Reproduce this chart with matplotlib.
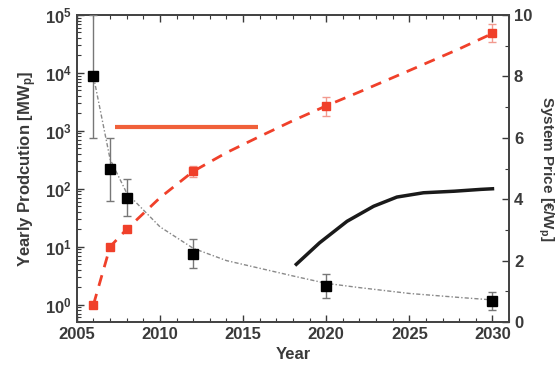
from matplotlib import pyplot as plt
from matplotlib.ticker import MultipleLocator, LogLocator, NullFormatter
import numpy as np

plt.rcParams['font.family'] = ['Liberation Sans', 'DejaVu Sans']
plt.rcParams['font.weight'] = 'bold'
plt.rcParams['mathtext.default'] = 'regular'

text_color = '#3a3a3a'

# production (left, log axis) - red squares
prod_years = [2006, 2007, 2008, 2012, 2020, 2030]
prod_values = [1, 10, 20, 200, 2700, 48000]
prod_err_lo = [0.0, 0.0, 0.0, 40, 900, 14000]
prod_err_hi = [0.0, 0.0, 0.0, 50, 1100, 22000]

# smooth dashed trend for production
prod_fit_years = [2006, 2007, 2008, 2010, 2012, 2014, 2016, 2018, 2020, 2022, 2025, 2028, 2030]
prod_fit_values = [1, 10, 20, 70, 200, 420, 800, 1500, 2700, 4700, 11000, 26000, 48000]

# horizontal orange reference line (left axis)
ref_years = [2007.3, 2015.9]
ref_values = [1150, 1150]

# system price (right axis) - black squares
price_years = [2006, 2007, 2008, 2012, 2020, 2030]
price_values = [8.0, 5.0, 4.05, 2.2, 1.17, 0.69]
price_err_lo = [2.0, 1.05, 0.6, 0.45, 0.4, 0.3]
price_err_hi = [2.0, 1.0, 0.6, 0.5, 0.4, 0.3]

# dotted fit through system price
price_fit_years = [2006, 2007, 2008, 2010, 2012, 2014, 2016, 2018, 2020, 2022, 2025, 2028, 2030]
price_fit_values = [8.0, 5.3, 4.2, 3.1, 2.4, 2.0, 1.75, 1.5, 1.26, 1.12, 0.93, 0.8, 0.72]

# solid black curve (right axis)
curve_years = [2018.2, 2019.6, 2021.25, 2022.85, 2024.25, 2025.85, 2027.7, 2029.3, 2030.0]
curve_values = [1.88, 2.58, 3.28, 3.77, 4.07, 4.21, 4.26, 4.32, 4.34]

fig = plt.figure(figsize=(5.57, 3.76), dpi=100)
ax = fig.add_axes([0.138, 0.1436, 0.776, 0.8165])
ax2 = ax.twinx()

red = '#f0402a'
ax.plot(prod_fit_years, prod_fit_values, color=red, linestyle=(0, (4, 3)), lw=2, zorder=2)
ax.errorbar(prod_years, prod_values, yerr=[prod_err_lo, prod_err_hi], fmt='s', color=red,
            ecolor='#f29a8f', elinewidth=1, capsize=3, markersize=6, zorder=3)
ax.plot(ref_years, ref_values, color='#f0603a', lw=3, solid_capstyle='butt', zorder=2)

ax2.plot(price_fit_years, price_fit_values, color='#8a8a8a', linestyle=(0, (3, 1.5, 1, 1.5)), lw=1, zorder=2)
ax2.errorbar(price_years, price_values, yerr=[price_err_lo, price_err_hi], fmt='s', color='black',
             ecolor='#777777', elinewidth=1, capsize=3, markersize=7, zorder=3)
ax2.plot(curve_years, curve_values, color='#1a1a1a', lw=2.5, zorder=2)

ax.set_yscale('log')
ax.set_ylim(0.5, 1e5)
ax.set_xlim(2005, 2031)
ax2.set_ylim(0, 10)

ax.xaxis.set_major_locator(MultipleLocator(5))
ax.xaxis.set_minor_locator(MultipleLocator(1))
ax.yaxis.set_major_locator(LogLocator(base=10, numticks=10))
ax.yaxis.set_minor_locator(LogLocator(base=10, subs=np.arange(2, 10), numticks=10))
ax.yaxis.set_minor_formatter(NullFormatter())
ax2.yaxis.set_major_locator(MultipleLocator(2))
ax2.yaxis.set_minor_locator(MultipleLocator(1))

for a in (ax, ax2):
    a.tick_params(which='both', direction='in', colors=text_color, labelsize=12, top=True)
    a.tick_params(which='major', length=5, width=1)
    a.tick_params(which='minor', length=3, width=0.8)
    for s in a.spines.values():
        s.set_color('#444444')
        s.set_linewidth(1.3)

ax.set_xlabel('Year', fontsize=12, color=text_color, fontweight='bold')
ax.set_ylabel('Yearly Prodcution [MW$_p$]', fontsize=12, color=text_color, fontweight='bold')
ax2.set_ylabel('System Price [€/W$_p$]', fontsize=11, color=text_color, fontweight='bold',
               rotation=270, va='center', ha='center')
ax2.yaxis.set_label_coords(1.084, 0.5)

fig.savefig('out.png', dpi=100)
